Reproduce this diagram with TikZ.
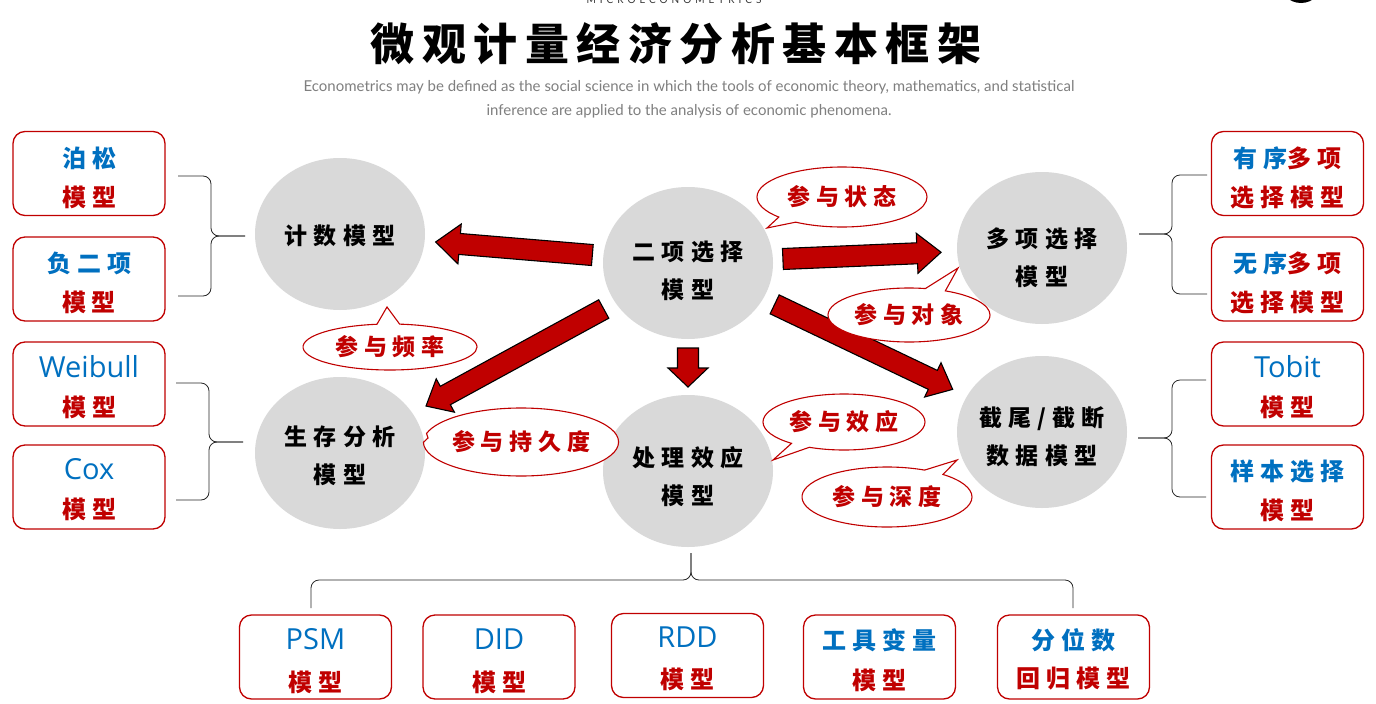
\documentclass[tikz,border=0pt]{standalone}
\usepackage{fontspec}
\usetikzlibrary{calc,shapes.geometric,shapes.callouts}
\setmainfont{Lato}
\newfontfamily\cjkfont[LetterSpace=25]{Noto Sans CJK SC}
\newfontfamily\circfont[LetterSpace=27]{Noto Sans CJK SC}
\newfontfamily\titlefont[LetterSpace=17]{Noto Sans CJK SC}
\newfontfamily\latinfont{Open Sans}
\newfontfamily\subfont{Lato}
\newfontfamily\capsfont[LetterSpace=40]{Lato}
\definecolor{cred}{HTML}{C00000}
\definecolor{cblue}{HTML}{0070C0}
\definecolor{cgray}{HTML}{D9D9D9}
\definecolor{subgray}{HTML}{7F7F7F}
\newcommand{\tblue}[1]{{\color{cblue}#1}}
\newcommand{\tred}[1]{{\color{cred}#1}}
\newcommand{\lat}[1]{{\latinfont\mdseries\fontsize{29}{39}\selectfont #1}}
\tikzset{
  circ/.style={ellipse, fill=cgray, minimum width=170pt, minimum height=152pt, inner sep=0pt},
  ctext/.style={align=center, inner sep=0pt, font={\circfont\bfseries\fontsize{23}{38}\selectfont}},
  box/.style={draw=cred, line width=1.3pt, rounded corners=12pt, fill=white, minimum width=152pt, minimum height=84pt, inner sep=0pt},
  btext/.style={align=center, inner sep=0pt, font={\cjkfont\bfseries\fontsize{24}{39}\selectfont}},
  bubble/.style={ellipse callout, draw=cred, line width=1.1pt, fill=white, inner sep=0pt, text=cred, font={\cjkfont\bfseries\fontsize{23}{28}\selectfont}},
  brace/.style={draw=black!85, line width=0.8pt, rounded corners=8pt},
  barrow/.style n args={4}{fill=cred, draw=black, line width=1.1pt, line join=miter,
    to path={
      ($(\tikztostart)!#1!(\tikztotarget)$) coordinate (ba-s)
      ($(\tikztotarget)!#2!(\tikztostart)$) coordinate (ba-t)
      ($(ba-t)!#3!(ba-s)$) coordinate (ba-b)
      ($(ba-s)!10.5pt!90:(ba-t)$) -- ($(ba-b)!10.5pt!90:(ba-t)$) -- ($(ba-b)!#4!90:(ba-t)$)
      -- (ba-t) -- ($(ba-b)!#4!-90:(ba-t)$) -- ($(ba-b)!10.5pt!-90:(ba-t)$)
      -- ($(ba-s)!10.5pt!-90:(ba-t)$) -- cycle}}
}
\begin{document}
\begin{tikzpicture}[x=1pt,y=-1pt]
\useasboundingbox (0,0) rectangle (1376,704);
\fill[white] (0,0) rectangle (1376,704);

% header
\node[anchor=base, inner sep=0pt, font={\capsfont\fontsize{10}{12}\selectfont}, text=black!80] (caps) at (674,4) {MICROECONOMETRICS};
\fill[black] (1301,-18.7) circle (21.7);
\node[inner sep=0pt, font={\titlefont\bfseries\fontsize{44}{50}\selectfont}] (title) at (676,44) {微观计量经济分析基本框架};
\node[inner sep=0pt, align=center, text=subgray, font={\subfont\fontsize{15}{24}\selectfont}] (sub) at (689,99)
  {Econometrics may be defined as the social science in which the tools of economic theory, mathematics, and statistical\\inference are applied to the analysis of economic phenomena.};

% circles
\node[circ] (count) at (340,234) {};
\node[ctext] (count-t) at (340,236) {计数模型};
\node[circ] (bin) at (688,263) {};
\node[ctext] (bin-t) at (688,271) {二项选择\\模型};
\node[circ] (multi) at (1042,248) {};
\node[ctext] (multi-t) at (1042,257.5) {多项选择\\模型};
\node[circ] (surv) at (340,453) {};
\node[ctext] (surv-t) at (340,455.5) {生存分析\\模型};
\node[circ] (treat) at (688,471) {};
\node[ctext] (treat-t) at (688,476.5) {处理效应\\模型};
\node[circ] (cens) at (1042,432) {};
\node[ctext] (cens-t) at (1042,436.5) {截尾/截断\\数据模型};

% block arrows
\draw[barrow={96pt}{96pt}{24pt}{20pt}] (bin) to (count);
\draw[barrow={95pt}{101pt}{24pt}{20pt}] (bin) to (multi);
\draw[barrow={96pt}{98pt}{22pt}{19pt}] (bin) to (surv);
\draw[barrow={85pt}{84pt}{19pt}{20pt}] (bin) to (treat);
\draw[barrow={96pt}{99pt}{22pt}{19pt}] (bin) to (cens);

% callouts
\node[bubble, minimum width=170pt, minimum height=60pt, callout absolute pointer={(767,228)}] (c1) at (842,197) {参与状态};
\node[bubble, minimum width=162pt, minimum height=54pt, callout absolute pointer={(958,268)}] (c2) at (909,315) {参与对象};
\node[bubble, minimum width=174pt, minimum height=46pt, callout absolute pointer={(387,307)}] (c3) at (390,347) {参与频率};
\node[bubble, minimum width=158pt, minimum height=68pt, callout absolute pointer={(428,438)}] (c4) at (521,442) {参与持久度};
\node[bubble, minimum width=162pt, minimum height=56pt, callout absolute pointer={(773,460)}] (c5) at (844,422) {参与效应};
\node[bubble, minimum width=170pt, minimum height=60pt, callout absolute pointer={(957,460)}] (c6) at (887,497) {参与深度};

% left boxes
\node[box] (l1) at (89,173.5) {};
\node[btext] at (89,177.5) {\tblue{泊松}\\\tred{模型}};
\node[box] (l2) at (89,279) {};
\node[btext] at (89,283) {\tblue{负二项}\\\tred{模型}};
\node[box] (l3) at (89,384) {};
\node[btext] at (89,387) {\tblue{\lat{Weibull}}\\\tred{模型}};
\node[box] (l4) at (89,487) {};
\node[btext] at (89,490) {\tblue{\lat{Cox}}\\\tred{模型}};

% right boxes
\node[box] (r1) at (1287.5,173.5) {};
\node[btext] at (1287.5,177.5) {\tblue{有序}\tred{多项}\\\tred{选择模型}};
\node[box] (r2) at (1287.5,279) {};
\node[btext] at (1287.5,283) {\tblue{无序}\tred{多项}\\\tred{选择模型}};
\node[box] (r3) at (1287.5,384) {};
\node[btext] at (1287.5,387) {\tblue{\lat{Tobit}}\\\tred{模型}};
\node[box] (r4) at (1287.5,487) {};
\node[btext] at (1287.5,490.5) {\tblue{样本选择}\\\tred{模型}};

% bottom boxes
\node[box] (d1) at (315.5,657) {};
\node[btext, font={\cjkfont\bfseries\fontsize{24}{42}\selectfont}] at (315.5,661) {\tblue{\lat{PSM}}\\\tred{模型}};
\node[box] (d2) at (499,657) {};
\node[btext, font={\cjkfont\bfseries\fontsize{24}{42}\selectfont}] at (499,661) {\tblue{\lat{DID}}\\\tred{模型}};
\node[box] (d3) at (687.5,655.5) {};
\node[btext, font={\cjkfont\bfseries\fontsize{24}{41}\selectfont}] at (687.5,658.5) {\tblue{\lat{RDD}}\\\tred{模型}};
\node[box] (d4) at (879.5,657) {};
\node[btext, font={\cjkfont\bfseries\fontsize{24}{40}\selectfont}] at (879.5,660) {\tblue{工具变量}\\\tred{模型}};
\node[box] (d5) at (1073.5,657) {};
\node[btext, font={\cjkfont\bfseries\fontsize{24}{38}\selectfont}] at (1073.5,659) {\tblue{分位数}\\\tred{回归模型}};

% braces
\coordinate (lt-a) at (178,176); \coordinate (lt-b) at (178,296); \coordinate (lt-v) at (211,236); \coordinate (lt-tip) at (245,236);
\draw[brace] (lt-a) -| (lt-v) -- (lt-tip);
\draw[brace] (lt-b) -| (lt-v) -- (lt-tip);
\coordinate (lb-a) at (176,383); \coordinate (lb-b) at (176,500); \coordinate (lb-v) at (209,442); \coordinate (lb-tip) at (243,442);
\draw[brace] (lb-a) -| (lb-v) -- (lb-tip);
\draw[brace] (lb-b) -| (lb-v) -- (lb-tip);
\coordinate (rt-a) at (1207,175); \coordinate (rt-b) at (1207,294); \coordinate (rt-v) at (1172,234); \coordinate (rt-tip) at (1139,234);
\draw[brace] (rt-a) -| (rt-v) -- (rt-tip);
\draw[brace] (rt-b) -| (rt-v) -- (rt-tip);
\coordinate (rb-a) at (1206,380); \coordinate (rb-b) at (1206,497); \coordinate (rb-v) at (1172,438); \coordinate (rb-tip) at (1138,438);
\draw[brace] (rb-a) -| (rb-v) -- (rb-tip);
\draw[brace] (rb-b) -| (rb-v) -- (rb-tip);
\coordinate (bt-a) at (311,608); \coordinate (bt-b) at (1073,608); \coordinate (bt-v) at (691,580); \coordinate (bt-tip) at (691,553);
\draw[brace] (bt-a) |- (bt-v) -- (bt-tip);
\draw[brace] (bt-b) |- (bt-v) -- (bt-tip);
\end{tikzpicture}
\end{document}
